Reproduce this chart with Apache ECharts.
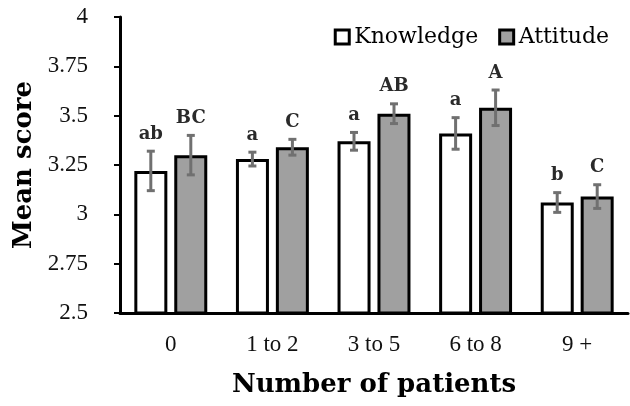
<!DOCTYPE html>
<html><head><meta charset="utf-8">
<script src="https://cdn.jsdelivr.net/npm/echarts@6/dist/echarts.min.js"></script>
<style>html,body{margin:0;padding:0;background:#fff}#c{width:630px;height:406px}</style>
</head><body><div id="c"></div>
<script>
const categories = ['0', '1 to 2', '3 to 5', '6 to 8', '9 +'];
const knowledge = [3.22, 3.28, 3.37, 3.41, 3.06];
const attitude = [3.30, 3.34, 3.51, 3.54, 3.09];
const knowledgeErr = [0.10, 0.035, 0.045, 0.08, 0.05];
const attitudeErr = [0.10, 0.04, 0.05, 0.09, 0.06];
const knowledgeLetters = ['ab', 'a', 'a', 'a', 'b'];
const attitudeLetters = ['BC', 'C', 'AB', 'A', 'C'];
const yTicks = [2.5, 4, 0.25];

const chart = echarts.init(document.getElementById('c'), null, {renderer: 'canvas'});

function errData(vals, errs, letters) {
  return vals.map((v, i) => [i, v - errs[i], v + errs[i], letters[i]]);
}
function errSeries(name, vals, errs, letters, offset) {
  return {
    type: 'custom', name: name + ' err', z: 10, silent: true,
    encode: {x: 0, y: [1, 2]},
    data: errData(vals, errs, letters),
    renderItem: function (params, api) {
      const c = api.value(0);
      const lo = api.coord([c, api.value(1)]);
      const hi = api.coord([c, api.value(2)]);
      const x = lo[0] + offset;
      const cap = 4;
      const st = {stroke: '#707070', lineWidth: 3};
      return {type: 'group', children: [
        {type: 'line', shape: {x1: x, y1: lo[1], x2: x, y2: hi[1]}, style: st},
        {type: 'line', shape: {x1: x - cap, y1: lo[1], x2: x + cap, y2: lo[1]}, style: st},
        {type: 'line', shape: {x1: x - cap, y1: hi[1], x2: x + cap, y2: hi[1]}, style: st},
        {type: 'text', style: {text: letters[params.dataIndex], x: x, y: hi[1] - 8,
          textAlign: 'center', textVerticalAlign: 'bottom',
          font: 'bold 18px "DejaVu Serif"', fill: '#2a2a2a'}}
      ]};
    }
  };
}

chart.setOption({
  animation: false,
  backgroundColor: '#fff',
  grid: {left: 120, right: 2, top: 17, bottom: 93},
  legend: {
    right: 16, top: 21, itemWidth: 14, itemHeight: 14, itemGap: 20, icon: 'rect',
    data: ['Knowledge', 'Attitude'],
    itemStyle: {borderColor: '#000', borderWidth: 3},
    textStyle: {fontFamily: 'DejaVu Serif', fontSize: 22, color: '#000'}
  },
  xAxis: {
    type: 'category', data: categories,
    axisLine: {lineStyle: {color: '#000', width: 3}},
    axisTick: {show: false},
    axisLabel: {margin: 20, fontFamily: 'Liberation Serif', fontSize: 23, color: '#111'},
    name: 'Number of patients', nameLocation: 'middle', nameGap: 59,
    nameTextStyle: {fontFamily: 'DejaVu Serif', fontWeight: 'bold', fontSize: 26, color: '#000'}
  },
  yAxis: {
    type: 'value', min: yTicks[0], max: yTicks[1], interval: yTicks[2],
    splitLine: {show: false},
    axisLine: {show: true, lineStyle: {color: '#000', width: 3}},
    axisTick: {show: true, length: 6, lineStyle: {color: '#000', width: 2}},
    axisLabel: {margin: 32, fontFamily: 'Liberation Serif', fontSize: 23, color: '#111'},
    name: 'Mean score', nameLocation: 'middle', nameGap: 77,
    nameTextStyle: {fontFamily: 'DejaVu Serif', fontWeight: 'bold', fontSize: 26, color: '#000'}
  },
  series: [
    {name: 'Knowledge', type: 'bar', data: knowledge, barWidth: 33, barGap: '21%',
     itemStyle: {color: '#fff', borderColor: '#000', borderWidth: 3}},
    {name: 'Attitude', type: 'bar', data: attitude, barWidth: 33, barGap: '21%',
     itemStyle: {color: '#a0a0a0', borderColor: '#000', borderWidth: 3}},
    errSeries('Knowledge', knowledge, knowledgeErr, knowledgeLetters, -20),
    errSeries('Attitude', attitude, attitudeErr, attitudeLetters, 20)
  ]
});
</script></body></html>
